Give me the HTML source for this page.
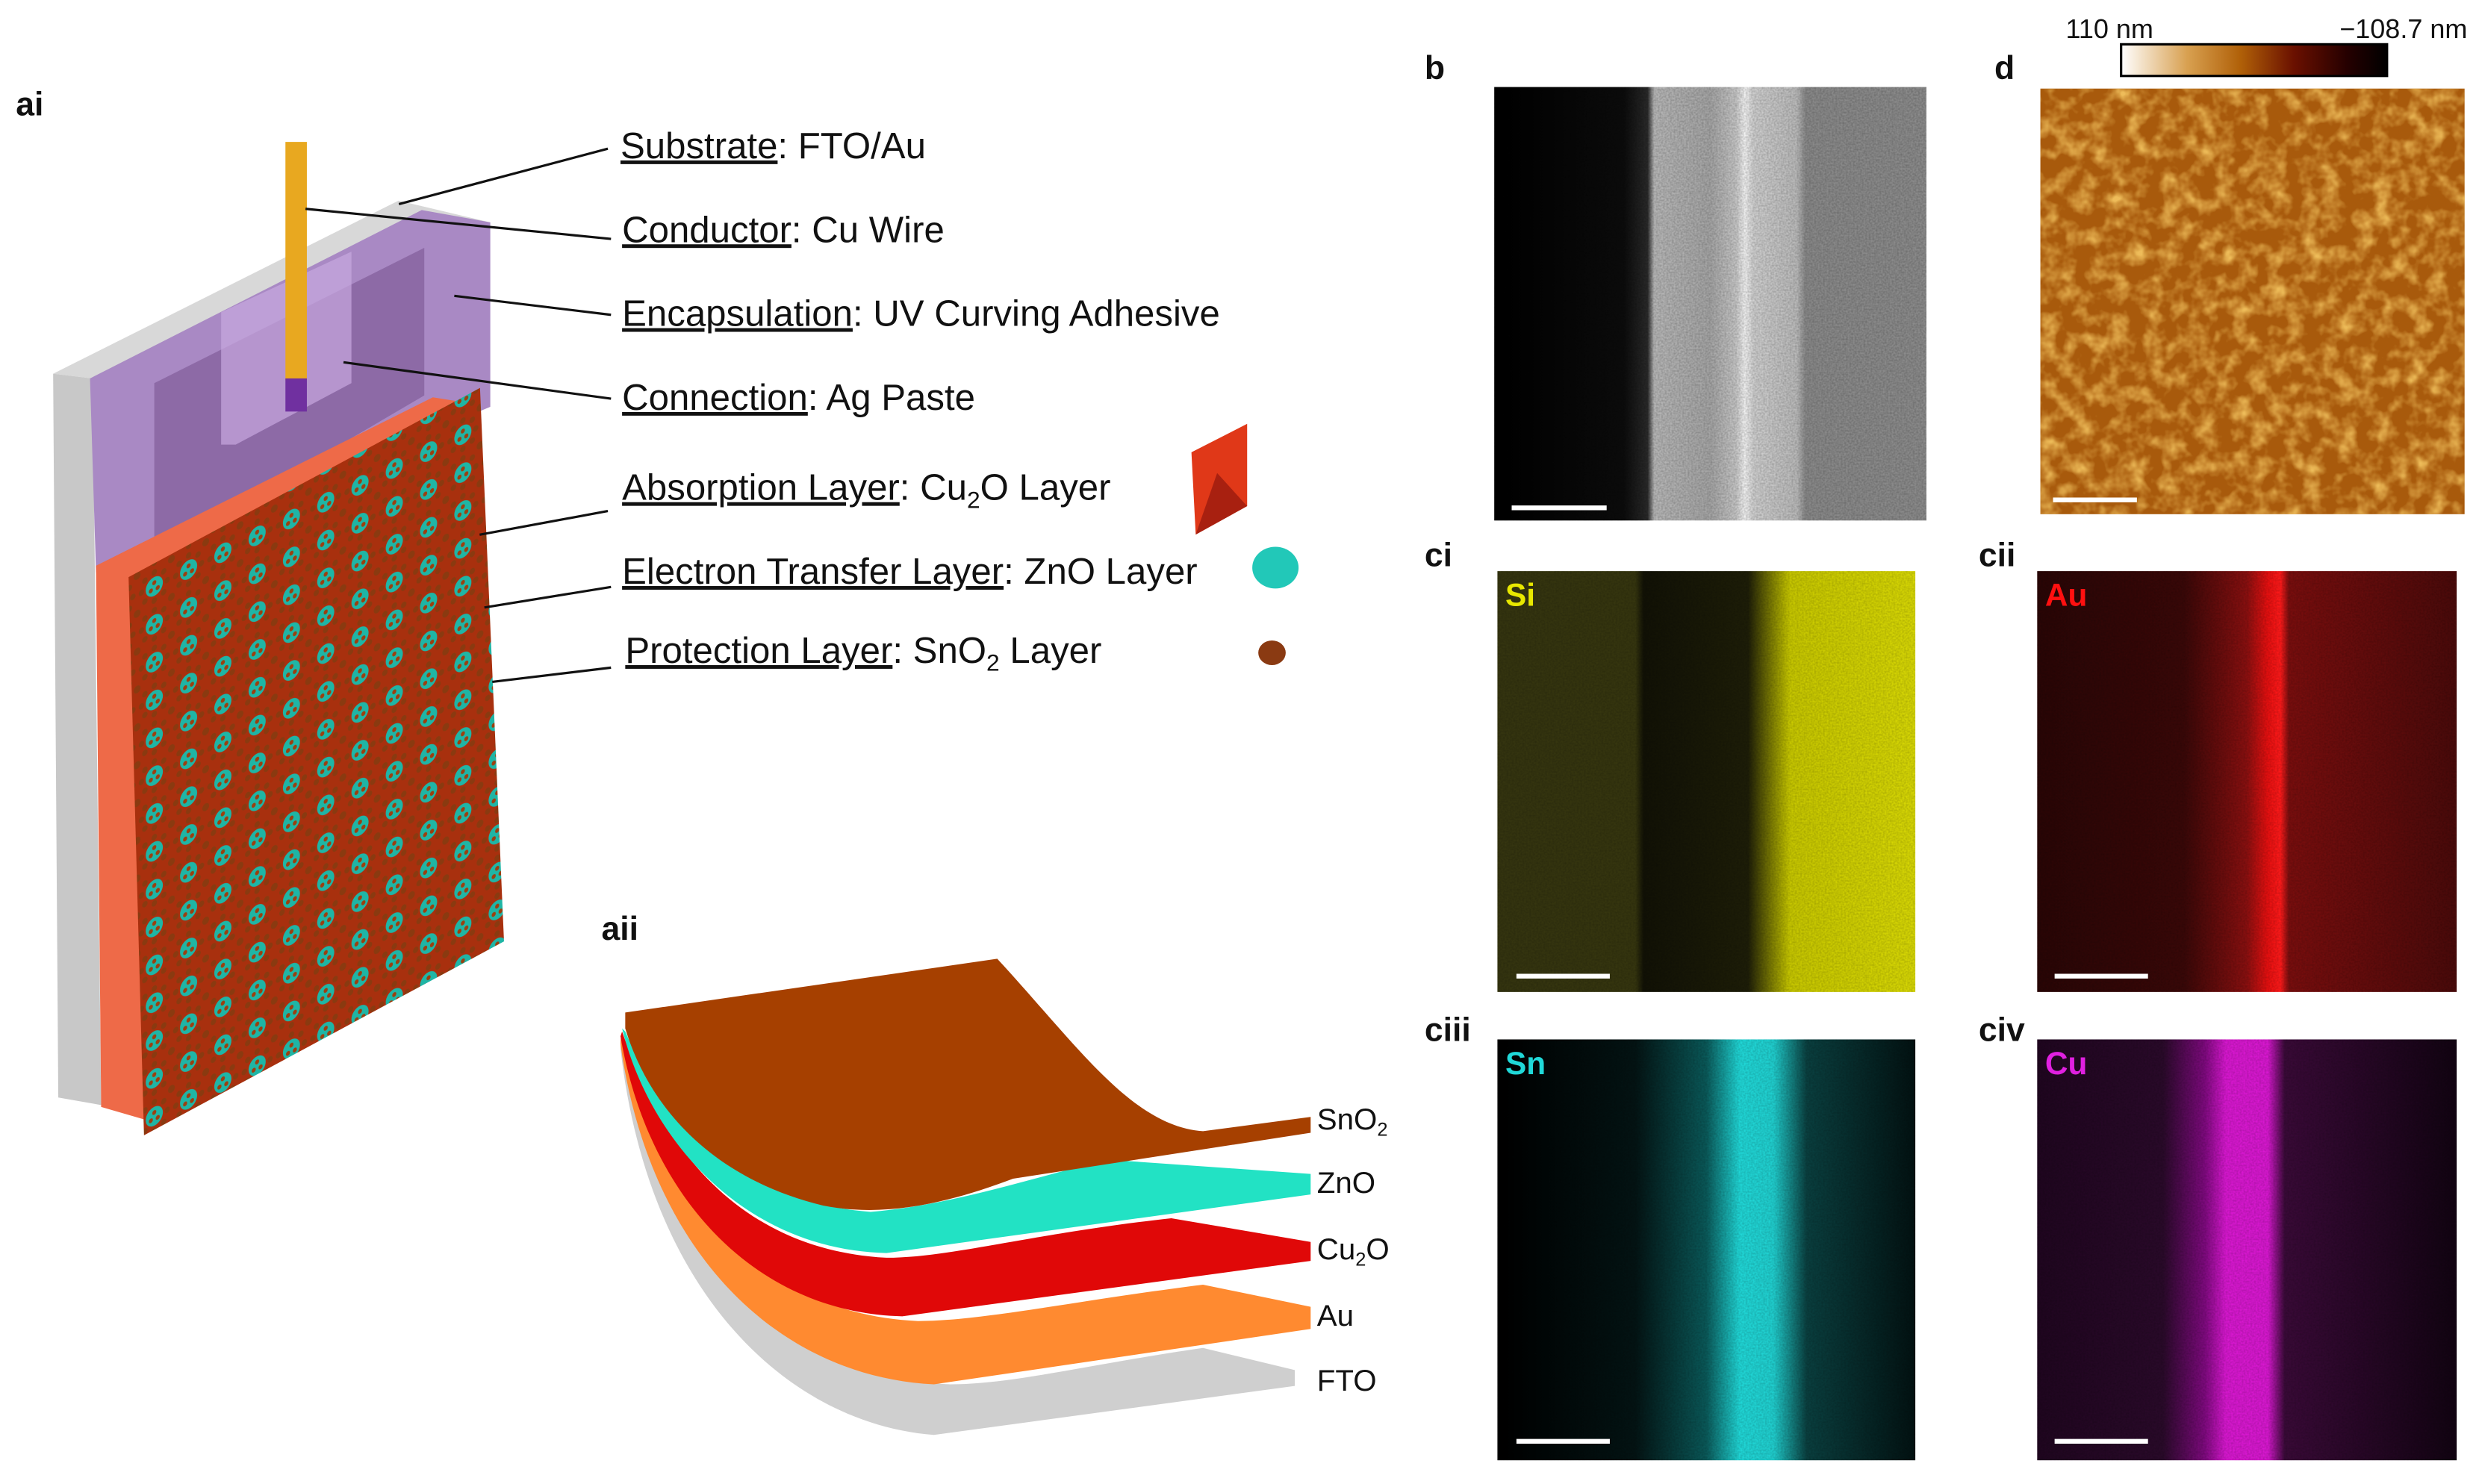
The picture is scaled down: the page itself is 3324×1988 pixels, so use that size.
<!DOCTYPE html>
<html><head><meta charset="utf-8"><style>
html,body{margin:0;padding:0;background:#fff}
svg{display:block}
text{font-family:"Liberation Sans",sans-serif}
</style></head><body>
<svg width="3324" height="1988" viewBox="0 0 1568 938" preserveAspectRatio="none" xmlns="http://www.w3.org/2000/svg">
<defs>
<pattern id="np" width="40" height="40" patternUnits="userSpaceOnUse" patternTransform="skewY(-24)">
<rect width="40" height="40" fill="#a8300e"/>
<g fill="#8a3a10">
<circle cx="20" cy="5" r="3.2"/><circle cx="20" cy="35" r="3.2"/><circle cx="5" cy="20" r="3.2"/><circle cx="35" cy="20" r="3.2"/>
<circle cx="9" cy="9" r="3.2"/><circle cx="31" cy="9" r="3.2"/><circle cx="9" cy="31" r="3.2"/><circle cx="31" cy="31" r="3.2"/>
<circle cx="0" cy="0" r="4"/><circle cx="40" cy="0" r="4"/><circle cx="0" cy="40" r="4"/><circle cx="40" cy="40" r="4"/>
</g>
<circle cx="20" cy="20" r="10" fill="#1fb5a5"/>
<g fill="#9a4010"><circle cx="20" cy="16" r="2.4"/><circle cx="16" cy="23" r="2.4"/><circle cx="24" cy="23" r="2.4"/></g>
</pattern>
<linearGradient id="sem" x1="0" x2="1">
<stop offset="0" stop-color="#000"/><stop offset="0.3" stop-color="#0c0c0c"/><stop offset="0.355" stop-color="#2a2a2a"/>
<stop offset="0.37" stop-color="#b8b8b8"/><stop offset="0.5" stop-color="#a6a6a6"/><stop offset="0.56" stop-color="#c8c8c8"/>
<stop offset="0.58" stop-color="#f4f4f4"/><stop offset="0.6" stop-color="#d0d0d0"/><stop offset="0.7" stop-color="#bcbcbc"/>
<stop offset="0.72" stop-color="#8a8a8a"/><stop offset="1" stop-color="#8c8c8c"/></linearGradient>
<linearGradient id="gsi" x1="0" x2="1">
<stop offset="0" stop-color="#353510"/><stop offset="0.33" stop-color="#36360f"/><stop offset="0.35" stop-color="#121206"/>
<stop offset="0.6" stop-color="#1e1e08"/><stop offset="0.7" stop-color="#c8c800"/><stop offset="1" stop-color="#d8d805"/></linearGradient>
<linearGradient id="gau" x1="0" x2="1">
<stop offset="0" stop-color="#2a0606"/><stop offset="0.35" stop-color="#3a0808"/><stop offset="0.5" stop-color="#8a1010"/>
<stop offset="0.55" stop-color="#e81010"/><stop offset="0.58" stop-color="#ff1a1a"/><stop offset="0.6" stop-color="#7a0e0e"/><stop offset="1" stop-color="#4a0a0a"/></linearGradient>
<linearGradient id="gsn" x1="0" x2="1">
<stop offset="0" stop-color="#000"/><stop offset="0.33" stop-color="#041414"/><stop offset="0.5" stop-color="#0a5a5a"/>
<stop offset="0.58" stop-color="#20d8d8"/><stop offset="0.66" stop-color="#20d0d0"/><stop offset="0.74" stop-color="#0a4040"/><stop offset="1" stop-color="#031212"/></linearGradient>
<linearGradient id="gcu" x1="0" x2="1">
<stop offset="0" stop-color="#200620"/><stop offset="0.3" stop-color="#2a0a2a"/><stop offset="0.4" stop-color="#800a80"/>
<stop offset="0.45" stop-color="#d818d0"/><stop offset="0.55" stop-color="#d818d0"/><stop offset="0.59" stop-color="#3a0a38"/><stop offset="1" stop-color="#120412"/></linearGradient>
<linearGradient id="cbar" x1="0" x2="1">
<stop offset="0" stop-color="#fff"/><stop offset="0.25" stop-color="#d8a050"/><stop offset="0.45" stop-color="#b06008"/>
<stop offset="0.65" stop-color="#6a1000"/><stop offset="0.85" stop-color="#250000"/><stop offset="1" stop-color="#000"/></linearGradient>
<filter id="afm" x="0" y="0" width="1" height="1">
<feTurbulence type="fractalNoise" baseFrequency="0.09" numOctaves="3" seed="4"/>
<feColorMatrix type="matrix" values="0 0 0 0 0.85  0 0 0 0 0.5  0 0 0 0 0.1  0 0 0 2.2 -0.9"/>
<feComposite in2="SourceGraphic" operator="in"/>
</filter>
<filter id="noise" x="0" y="0" width="1" height="1">
<feTurbulence type="fractalNoise" baseFrequency="0.9" numOctaves="1" seed="2"/>
<feColorMatrix type="matrix" values="0 0 0 0 0  0 0 0 0 0  0 0 0 0 0  0 0 0 0.6 -0.15"/>
<feComposite in2="SourceGraphic" operator="in"/>
</filter>
</defs>

<g transform="scale(0.5415,0.598)">
<polygon points="62,395 465,212 572,235 108,400" fill="#d8d8d8"/>
<polygon points="62,395 108,400 118,1168 68,1160" fill="#c8c8c8"/>
<polygon points="105,400 492,222 572,235 572,430 112,605" fill="#a989c4"/>
<polygon points="180,405 495,262 495,418 180,585" fill="#8d6aa6"/>
<polygon points="258,330 410,266 410,405 275,470 258,470" fill="#c8a8e0" opacity="0.7"/>
<polygon points="112,598 505,420 540,425 175,605 175,1185 118,1170" fill="#ee6a48"/>
<polygon points="150,610 560,410 588,995 168,1200" fill="url(#np)"/>
<rect x="333" y="150" width="25" height="252" fill="#e8a820"/>
<rect x="333" y="400" width="25" height="35" fill="#7030a0"/>
<polygon points="1390,478 1455,448 1455,535 1395,565" fill="#e03818"/>
<polygon points="1395,565 1455,535 1420,500" fill="#a82010"/>
<ellipse cx="1488" cy="600" rx="27" ry="22" fill="#22c8b8"/>
<ellipse cx="1484" cy="690" rx="16" ry="13" fill="#8a3a12"/>
</g>

<g stroke="#111" stroke-width="1.5">
<line x1="252" y1="129" x2="384" y2="94"/>
<line x1="193" y1="132" x2="386" y2="151"/>
<line x1="287" y1="187" x2="386" y2="199"/>
<line x1="217" y1="229" x2="386" y2="252"/>
<line x1="303" y1="338" x2="384" y2="323"/>
<line x1="306" y1="384" x2="386" y2="371"/>
<line x1="311" y1="431" x2="386" y2="422"/>
</g>
<g font-size="23.2" fill="#111">
<text x="392" y="100"><tspan text-decoration="underline">Substrate</tspan>: FTO/Au</text>
<text x="393" y="153"><tspan text-decoration="underline">Conductor</tspan>: Cu Wire</text>
<text x="393" y="206"><tspan text-decoration="underline">Encapsulation</tspan>: UV Curving Adhesive</text>
<text x="393" y="259"><tspan text-decoration="underline">Connection</tspan>: Ag Paste</text>
<text x="393" y="316"><tspan text-decoration="underline">Absorption Layer</tspan>: Cu<tspan font-size="15" dy="5">2</tspan><tspan dy="-5">O Layer</tspan></text>
<text x="393" y="369"><tspan text-decoration="underline">Electron Transfer Layer</tspan>: ZnO Layer</text>
<text x="395" y="419"><tspan text-decoration="underline">Protection Layer</tspan>: SnO<tspan font-size="15" dy="5">2</tspan><tspan dy="-5"> Layer</tspan></text>
</g>

<g font-size="21" font-weight="bold" fill="#111">
<text x="10" y="73">ai</text><text x="380" y="594">aii</text>
<text x="900" y="50">b</text><text x="1260" y="50">d</text>
<text x="900" y="358">ci</text><text x="1250" y="358">cii</text>
<text x="900" y="658">ciii</text><text x="1250" y="658">civ</text>
</g>

<g>
<path d="M392,663 C410,820 500,900 590,907 L818,876 L818,866 L760,852 C690,862 640,875 600,875 C490,870 420,790 392,660Z" fill="#cfcfcf"/>
<path d="M392,660 C410,790 490,870 590,875 L828,840 L828,826 L760,812 C680,822 620,835 580,835 C480,830 420,760 392,656Z" fill="#ff8a30"/>
<path d="M392,655 C410,760 480,830 570,832 L828,797 L828,785 L740,770 C650,780 600,795 560,795 C470,790 420,730 393,652Z" fill="#e00808"/>
<path d="M393,650 C410,720 470,790 560,792 L828,755 L828,742 L700,733 C650,745 600,762 550,766 C470,760 420,710 395,652Z" fill="#22e2c4"/>
<path d="M395,640 L630,606 C680,660 715,712 760,715 L828,706 L828,716 L640,745 C600,760 560,770 520,762 C450,745 410,700 395,650Z" fill="#a64000"/>
</g>
<g font-size="19" fill="#111">
<text x="832" y="714">SnO<tspan font-size="12" dy="4">2</tspan></text>
<text x="832" y="754">ZnO</text>
<text x="832" y="796">Cu<tspan font-size="12" dy="4">2</tspan><tspan dy="-4">O</tspan></text>
<text x="832" y="838">Au</text>
<text x="832" y="879">FTO</text>
</g>

<rect x="944" y="55" width="273" height="274" fill="url(#sem)"/>
<rect x="944" y="55" width="273" height="274" fill="#888" filter="url(#noise)" opacity="0.6"/>
<rect x="1289" y="56" width="268" height="269" fill="#a85a0c"/>
<rect x="1289" y="56" width="268" height="269" fill="#fff" filter="url(#afm)"/>
<rect x="1340" y="28" width="168" height="20" fill="url(#cbar)" stroke="#000" stroke-width="1.5"/>
<text x="1305" y="24" font-size="17" fill="#111">110 nm</text>
<text x="1478" y="24" font-size="17" fill="#111">−108.7 nm</text>

<rect x="946" y="361" width="264" height="266" fill="url(#gsi)"/>
<rect x="1287" y="361" width="265" height="266" fill="url(#gau)"/>
<rect x="946" y="657" width="264" height="266" fill="url(#gsn)"/>
<rect x="1287" y="657" width="265" height="266" fill="url(#gcu)"/>
<g filter="url(#noise)" fill="#000" opacity="0.5">
<rect x="946" y="361" width="264" height="266"/><rect x="1287" y="361" width="265" height="266"/>
<rect x="946" y="657" width="264" height="266"/><rect x="1287" y="657" width="265" height="266"/>
</g>
<g font-size="20" font-weight="bold">
<text x="951" y="383" fill="#e8e800">Si</text>
<text x="1292" y="383" fill="#ff1010">Au</text>
<text x="951" y="679" fill="#20d8d8">Sn</text>
<text x="1292" y="679" fill="#e020e0">Cu</text>
</g>
<g stroke="#fff" stroke-width="3">
<line x1="955" y1="321" x2="1015" y2="321"/>
<line x1="1297" y1="316" x2="1350" y2="316"/>
<line x1="958" y1="617" x2="1017" y2="617"/>
<line x1="1298" y1="617" x2="1357" y2="617"/>
<line x1="958" y1="911" x2="1017" y2="911"/>
<line x1="1298" y1="911" x2="1357" y2="911"/>
</g>
</svg>
</body></html>
